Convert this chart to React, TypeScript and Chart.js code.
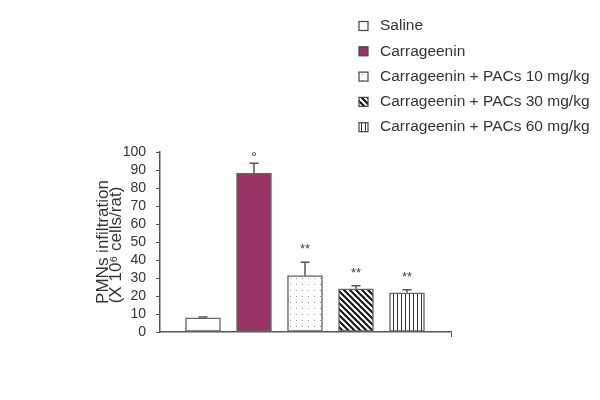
import React, { useEffect, useRef } from "react";
import { Chart, registerables } from "chart.js";

Chart.register(...registerables);

const categories = [
  "Saline",
  "Carrageenin",
  "Carrageenin + PACs 10 mg/kg",
  "Carrageenin + PACs 30 mg/kg",
  "Carrageenin + PACs 60 mg/kg",
];
const values = [7.9, 88.3, 31.3, 24.0, 21.8];
const errors = [0.4, 5.4, 7.4, 1.7, 1.7];
const marks = ["", "°", "**", "**", "**"];
const yTicks = [0, 10, 20, 30, 40, 50, 60, 70, 80, 90, 100];
const yTitle = ["PMNs infiltration", "(X 10⁶ cells/rat)"];

const FONT = "'Liberation Sans', Arial, sans-serif";
const AXIS = "#555";
const TEXT = "#333";

function makePattern(kind: string): CanvasPattern | string {
  const c = document.createElement("canvas");
  const ctx = c.getContext("2d")!;
  if (kind === "dots") {
    c.width = 6; c.height = 6;
    ctx.fillStyle = "#fff"; ctx.fillRect(0, 0, 6, 6);
    ctx.fillStyle = "#999"; ctx.fillRect(2, 2, 1, 1);
  } else if (kind === "diag") {
    c.width = 6; c.height = 6;
    ctx.fillStyle = "#fff"; ctx.fillRect(0, 0, 6, 6);
    ctx.strokeStyle = "#111"; ctx.lineWidth = 2;
    for (const o of [-6, 0, 6]) {
      ctx.beginPath(); ctx.moveTo(o - 1, -1); ctx.lineTo(o + 7, 7); ctx.stroke();
    }
  } else if (kind === "vert") {
    c.width = 4; c.height = 4;
    ctx.fillStyle = "#fff"; ctx.fillRect(0, 0, 4, 4);
    ctx.fillStyle = "#333"; ctx.fillRect(1, 0, 1, 4);
  }
  return ctx.createPattern(c, "repeat")!;
}

export default function App() {
  const ref = useRef<HTMLCanvasElement>(null);
  useEffect(() => {
    const fills: (CanvasPattern | string)[] = [
      "#ffffff",
      "#993366",
      makePattern("dots"),
      makePattern("diag"),
      makePattern("vert"),
    ];

    const extras = {
      id: "extras",
      afterDatasetsDraw(chart: any) {
        const ctx = chart.ctx;
        const y = chart.scales.y;
        const meta = chart.getDatasetMeta(0);
        ctx.save();
        meta.data.forEach((bar: any, i: number) => {
          const top = y.getPixelForValue(values[i] + errors[i]);
          const base = y.getPixelForValue(values[i]);
          ctx.strokeStyle = AXIS;
          ctx.lineWidth = 1.5;
          ctx.beginPath();
          ctx.moveTo(bar.x, base);
          ctx.lineTo(bar.x, top);
          ctx.moveTo(bar.x - 4.5, top);
          ctx.lineTo(bar.x + 4.5, top);
          ctx.stroke();
          if (marks[i]) {
            ctx.fillStyle = "#4a3a3a";
            ctx.textAlign = "center";
            ctx.textBaseline = "bottom";
            ctx.font = marks[i] === "°" ? `15px ${FONT}` : `13px ${FONT}`;
            ctx.fillText(marks[i], bar.x, marks[i] === "°" ? top + 2 : top - 6);
          }
        });
        // y axis title
        ctx.fillStyle = TEXT;
        ctx.font = `17px ${FONT}`;
        ctx.textAlign = "center";
        ctx.textBaseline = "alphabetic";
        const cy = (chart.chartArea.top + chart.chartArea.bottom) / 2;
        ctx.save();
        ctx.translate(108, cy);
        ctx.rotate(-Math.PI / 2);
        ctx.fillText(yTitle[0], 0, 0);
        ctx.restore();
        ctx.save();
        ctx.translate(120.5, cy + 3);
        ctx.rotate(-Math.PI / 2);
        ctx.fillText(yTitle[1], 0, 0);
        ctx.restore();
        // legend
        ctx.font = `15.5px ${FONT}`;
        ctx.textAlign = "left";
        ctx.textBaseline = "middle";
        categories.forEach((name, i) => {
          const ly = 26 + i * 25.3;
          ctx.fillStyle = fills[i] as any;
          ctx.fillRect(359, ly - 4.5, 9, 9);
          ctx.strokeStyle = "#444";
          ctx.lineWidth = 1.2;
          ctx.strokeRect(359, ly - 4.5, 9, 9);
          ctx.fillStyle = "#3a3030";
          ctx.fillText(name, 380, ly);
        });
        ctx.restore();
      },
    };

    const chart = new Chart(ref.current!, {
      type: "bar",
      data: {
        datasets: [
          {
            data: values.map((v, i) => ({ x: i, y: v })),
            backgroundColor: fills as any,
            borderColor: "#666",
            borderWidth: 1.5,
            borderSkipped: false,
            barThickness: 35,
          },
        ],
      },
      options: {
        responsive: false,
        animation: false,
        layout: { padding: { left: 0, right: 149, top: 152, bottom: 68 } },
        plugins: { legend: { display: false }, tooltip: { enabled: false } },
        scales: {
          x: {
            type: "linear",
            offset: false,
            min: -0.843,
            max: 4.863,
            afterFit: (s: any) => { s.height = 0; },
            afterBuildTicks: (s: any) => { s.ticks = [{ value: s.max }]; },
            ticks: { display: false },
            grid: { drawOnChartArea: false, offset: false, tickLength: 5, color: AXIS, lineWidth: 1 },
            border: { color: AXIS, width: 1.5 },
          },
          y: {
            min: 0,
            max: 100,
            afterFit: (s: any) => { s.width = 160; },
            afterBuildTicks: (s: any) => { s.ticks = yTicks.map((v) => ({ value: v })); },
            ticks: {
              autoSkip: false,
              font: { family: FONT, size: 14 },
              color: TEXT,
              padding: 10,
            },
            grid: { drawOnChartArea: false, tickLength: 4, color: AXIS, lineWidth: 1 },
            border: { color: AXIS, width: 1.5 },
          },
        },
      },
      plugins: [extras],
    });
    return () => chart.destroy();
  }, []);
  return (
    <div style={{ position: "fixed", left: 0, top: 0, width: 600, height: 400, background: "#fff" }}>
      <canvas ref={ref} width={600} height={400} />
    </div>
  );
}
